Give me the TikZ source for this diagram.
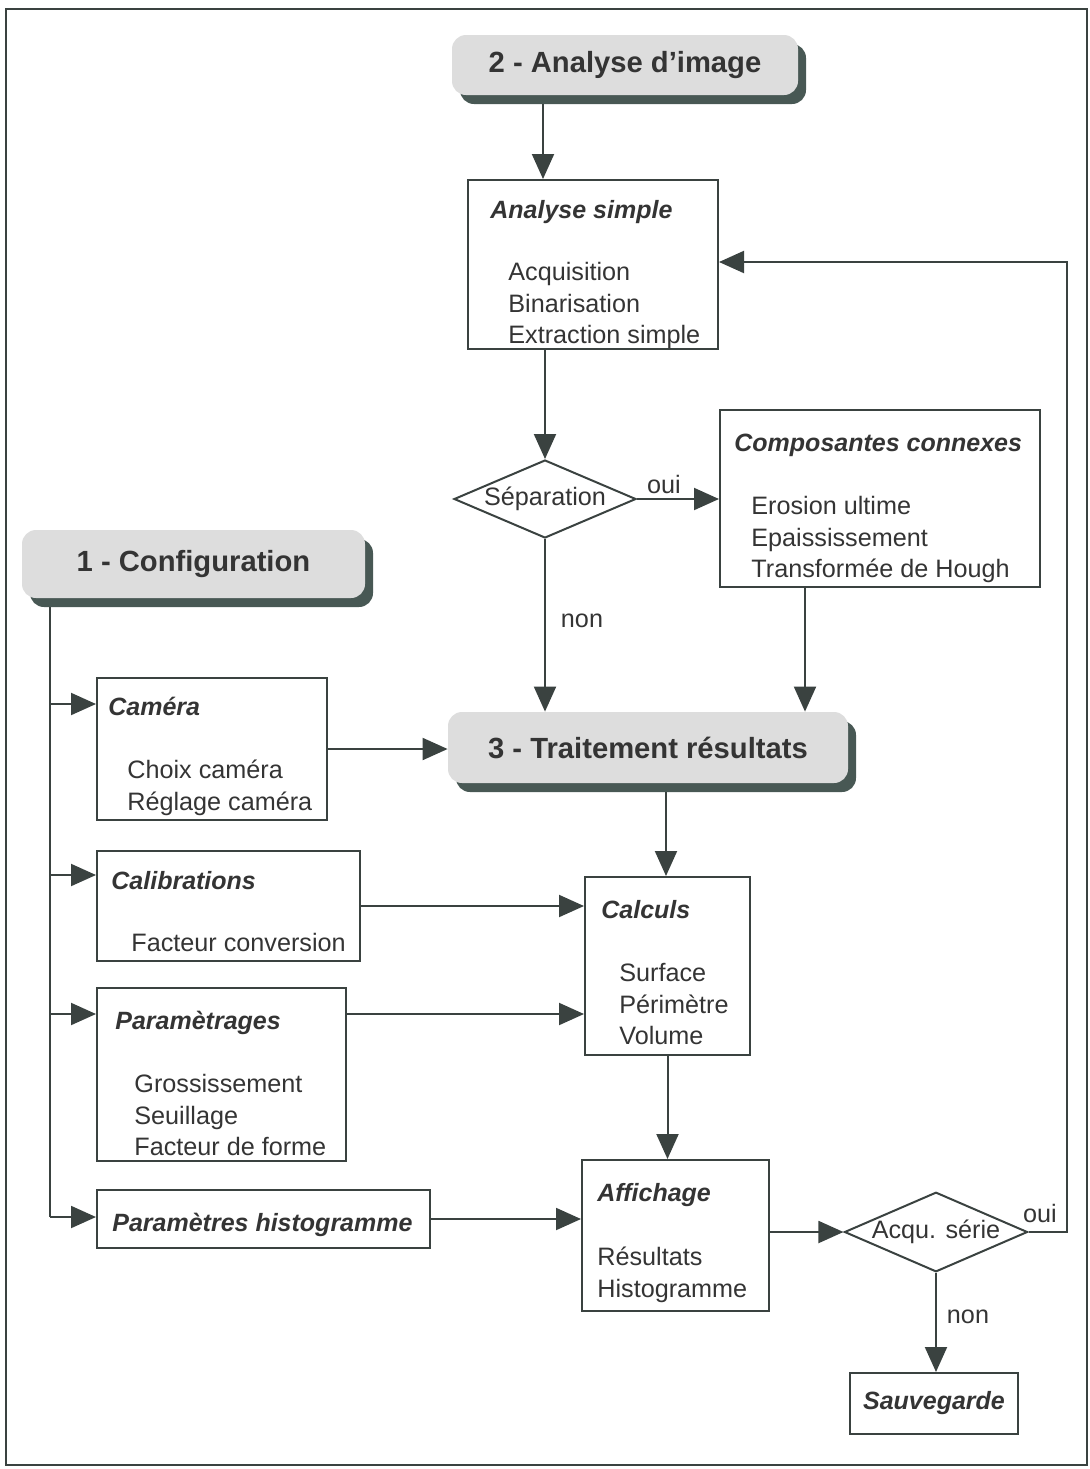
\documentclass[tikz,border=0pt]{standalone}
\usepackage{fontspec}
\setmainfont{Liberation Sans}
\usetikzlibrary{positioning,arrows.meta,fit,shapes.geometric,shadows}
\definecolor{InkGray}{RGB}{58,66,64}
\definecolor{TextGray}{RGB}{52,52,52}
\definecolor{HeadFill}{RGB}{221,221,221}
\definecolor{HeadShade}{RGB}{72,88,84}

\tikzset{
  box/.style={draw=InkGray, line width=1pt, inner sep=0pt},
  header/.style={fill=HeadFill, rounded corners=7pt, inner sep=0pt, text=TextGray,
    font=\fontsize{14.6}{17}\selectfont\bfseries,
    drop shadow={shadow xshift=4pt, shadow yshift=-4.5pt, fill=HeadShade, opacity=1}},
  boxtitle/.style={anchor=base west, inner sep=0pt, font=\fontsize{12.5}{15.75}\selectfont\bfseries\itshape},
  itemlist/.style={anchor=north west, inner sep=0pt, align=left},
  decision/.style={diamond, aspect=2.3, draw=InkGray, line width=1pt, inner sep=0pt, minimum width=91pt, minimum height=39pt},
  answer/.style={inner sep=0pt},
  flow/.style={draw=InkGray, line width=1pt, -{Triangle[length=12.5pt, width=11pt]}},
  link/.style={draw=InkGray, line width=1pt}
}

\begin{document}
\begin{tikzpicture}[x=0.5pt, y=-0.5pt, every node/.style={text=TextGray, font=\fontsize{12.6}{15.75}\selectfont}]
  \useasboundingbox (0,0) rectangle (1090,1469);
  \draw[InkGray, line width=1pt] (6,9) rectangle (1087,1465);

  % 2 - analyse d'image
  \node[header, minimum width=173pt, minimum height=30pt] (analyse) at (625,65) {2 - Analyse d’image};
  \node[box, fit={(468,180) (718,349)}] (simple) {};
  \node[boxtitle] (simple-t) at (490,218) {Analyse simple};
  \node[itemlist] (simple-l) at (508,262) {Acquisition\\Binarisation\\Extraction simple};

  \node[decision] (sepa) at (545,499) {Séparation};
  \node[answer] (oui-sepa) at (664,484) {oui};
  \node[answer] (non-sepa) at (582,621) {non};

  \node[box, fit={(720,410) (1040,587)}] (connexes) {};
  \node[boxtitle] (connexes-t) at (734,451) {Composantes connexes};
  \node[itemlist] (connexes-l) at (751,496) {Erosion ultime\\Epaississement\\Transformée de Hough};

  % 3 - traitement
  \node[header, minimum width=200pt, minimum height=35.5pt] (traitement) at (648,747.5) {3 - Traitement résultats};

  % 1 - configuration
  \node[header, minimum width=171.5pt, minimum height=34pt] (config) at (193.5,564) {1 - Configuration};

  \node[box, fit={(97,678) (327,820)}] (camera) {};
  \node[boxtitle] (camera-t) at (108,715) {Caméra};
  \node[itemlist] (camera-l) at (127,760) {Choix caméra\\Réglage caméra};

  \node[box, fit={(97,851) (360,961)}] (calib) {};
  \node[boxtitle] (calib-t) at (111,889) {Calibrations};
  \node[itemlist] (calib-l) at (131,933) {Facteur conversion};

  \node[box, fit={(97,988) (346,1161)}] (param) {};
  \node[boxtitle] (param-t) at (115,1029) {Paramètrages};
  \node[itemlist] (param-l) at (134,1074) {Grossissement\\Seuillage\\Facteur de forme};

  \node[box, fit={(97,1190) (430,1248)}] (histo) {};
  \node[boxtitle] (histo-t) at (112,1231) {Paramètres histogramme};

  \node[box, fit={(585,877) (750,1055)}] (calculs) {};
  \node[boxtitle] (calculs-t) at (601,918) {Calculs};
  \node[itemlist] (calculs-l) at (619,963) {Surface\\Périmètre\\Volume};

  \node[box, fit={(582,1160) (769,1311)}] (affichage) {};
  \node[boxtitle] (affichage-t) at (597,1201) {Affichage};
  \node[itemlist] (affichage-l) at (597,1247) {Résultats\\Histogramme};

  \node[decision] (acqu) at (936,1232) {Acqu. série};
  \node[answer] (oui-acqu) at (1040,1213) {oui};
  \node[answer] (non-acqu) at (968,1317) {non};

  \node[box, minimum width=84pt, minimum height=30.5pt, font=\fontsize{12.5}{15.75}\selectfont\bfseries\itshape] (sauve) at (934,1403.5) {Sauvegarde};

  \coordinate (a-bas) at (543,104);
  \coordinate (t-bas) at (666,792);
  \coordinate (c-down) at (805,587);
  \coordinate (tronc) at (50,607);
  \coordinate (b-cam) at (50,704);
  \coordinate (b-calib) at (50,875);
  \coordinate (b-param) at (50,1014);
  \coordinate (b-histo) at (50,1217);
  \coordinate (retour) at (1067,262);

  \draw[flow] (a-bas) -- (a-bas |- simple.north);
  \draw[flow] (sepa.north |- simple.south) -- (sepa.north);
  \draw[flow] (sepa.east) -- (sepa.east -| connexes.west);
  \draw[flow] (sepa.south) -- (sepa.south |- traitement.north);
  \draw[flow] (c-down) -- (c-down |- traitement.north);

  \draw[link] (tronc) -- (b-histo);
  \draw[flow] (b-cam) -- (b-cam -| camera.west);
  \draw[flow] (b-calib) -- (b-calib -| calib.west);
  \draw[flow] (b-param) -- (b-param -| param.west);
  \draw[flow] (b-histo) -- (b-histo -| histo.west);

  \draw[flow] (camera.east) -- (camera.east -| traitement.west);
  \draw[flow] (t-bas) -- (t-bas |- calculs.north);
  \draw[flow] (calib.east) -- (calib.east -| calculs.west);
  \draw[flow] (b-param -| param.east) -- (b-param -| calculs.west);
  \draw[flow] (histo.east) -- (histo.east -| affichage.west);
  \draw[flow] (calculs.south) -- (calculs.south |- affichage.north);
  \draw[flow] (acqu.west -| affichage.east) -- (acqu.west);
  \draw[flow] (acqu.east) -| (retour) -- (retour -| simple.east);
  \draw[flow] (acqu.south) -- (acqu.south |- sauve.north);
\end{tikzpicture}
\end{document}
